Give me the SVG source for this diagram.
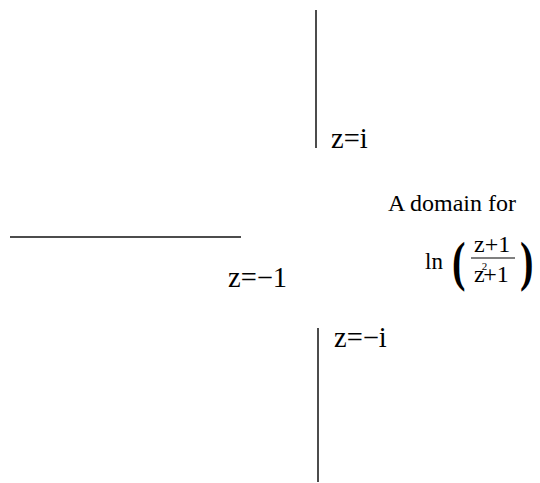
<svg xmlns="http://www.w3.org/2000/svg" width="540" height="483" viewBox="0 0 540 483">
<style>
.t{font-family:"Liberation Serif","Times New Roman",serif;fill:#000}
.l{stroke:#111;stroke-width:1.5;fill:none}
</style>
<rect width="540" height="483" fill="#fff"/>
<g id="connectors">
<line class="l" x1="316" y1="10" x2="316" y2="148"/>
<line class="l" x1="10" y1="237" x2="241" y2="237"/>
<line class="l" x1="318" y1="328" x2="318" y2="482"/>
</g>
<g id="label-i"><text class="t" x="331" y="148" font-size="28.5">z=i</text></g>
<g id="label-m1"><text class="t" x="228" y="287" font-size="28.5">z=−1</text></g>
<g id="label-mi"><text class="t" x="334" y="347" font-size="28.5">z=−i</text></g>
<g id="caption">
<text class="t" x="388" y="211" font-size="24">A domain for</text>
<text class="t" x="425" y="269" font-size="23">ln</text>
<text class="t" x="452" y="280" font-size="54" font-weight="bold" transform="translate(452 0) scale(0.75 1) translate(-452 0)">(</text>
<text class="t" x="474" y="252" font-size="24">z+1</text>
<line x1="471" y1="258" x2="515" y2="258" stroke="#000" stroke-width="1"/>
<text class="t" x="474" y="282" font-size="24">z<tspan dx="-3" dy="-12" font-size="11">2</tspan><tspan dx="-4" dy="12">+1</tspan></text>
<text class="t" x="520" y="280" font-size="54" font-weight="bold" transform="translate(520 0) scale(0.75 1) translate(-520 0)">)</text>
</g>
</svg>
